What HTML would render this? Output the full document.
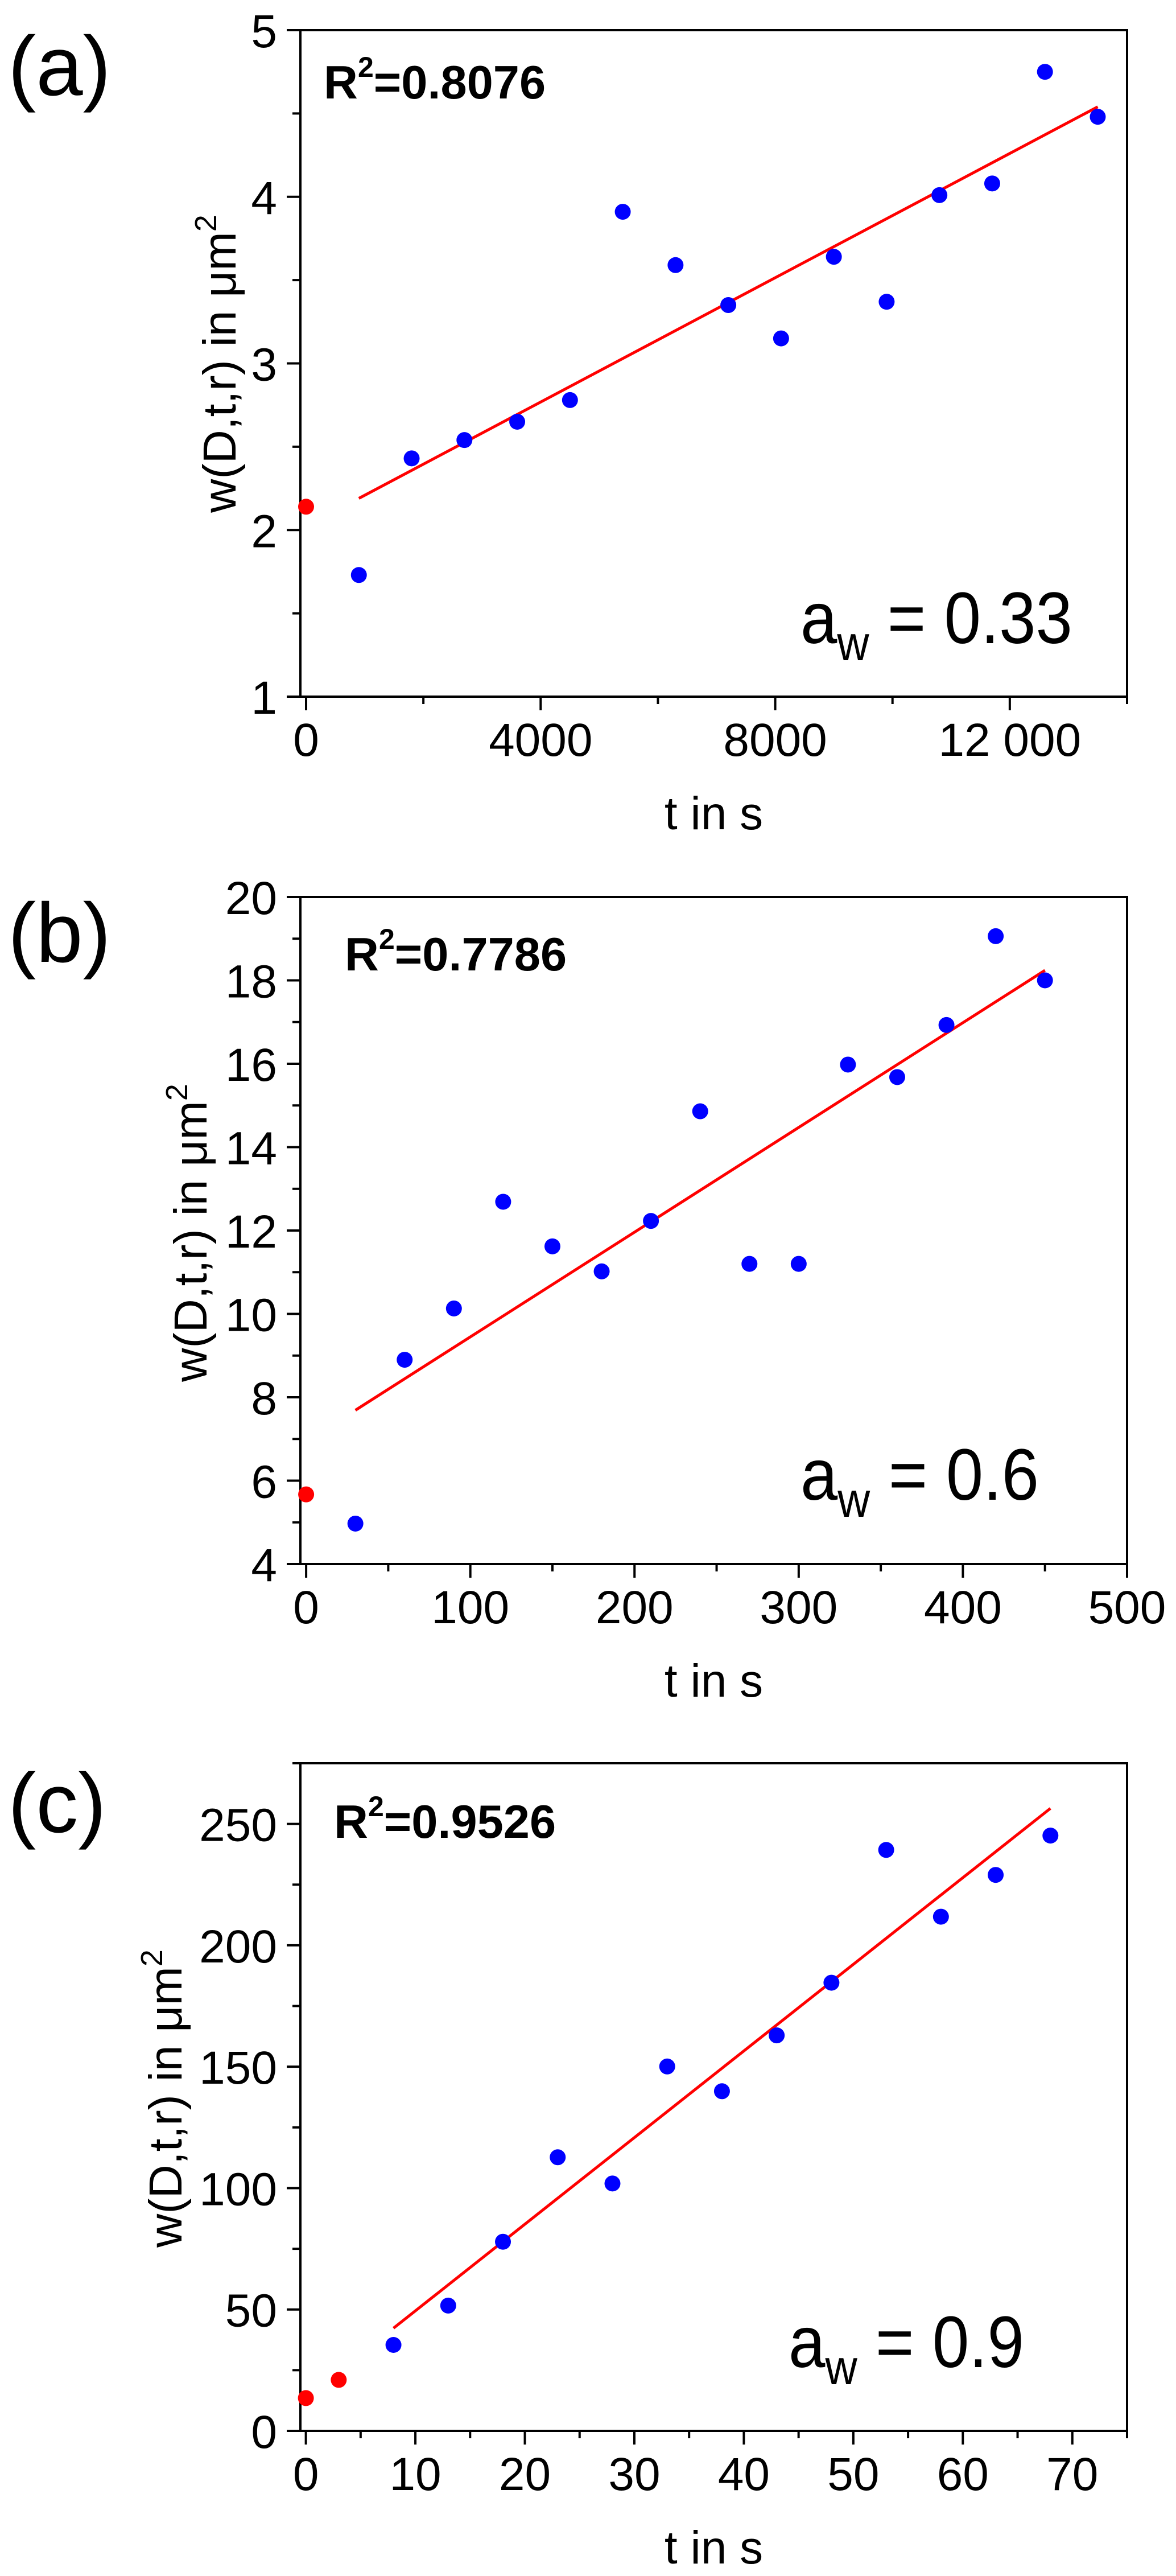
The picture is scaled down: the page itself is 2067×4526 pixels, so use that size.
<!DOCTYPE html>
<html><head><meta charset="utf-8"><style>
html,body{margin:0;padding:0;background:#fff}
svg{display:block}
text{font-family:"Liberation Sans",sans-serif;fill:#000}
</style></head><body>
<svg id="fig" xmlns="http://www.w3.org/2000/svg" width="2067" height="4526" viewBox="0 0 2067 4526"></svg>
<script>
// Panel (a)
const aX = [900,1800,2700,3600,4500,5400,6300,7200,8100,9000,9900,10800,11700,12600,13500];
const aY = [1.73,2.43,2.54,2.65,2.78,3.91,3.59,3.35,3.15,3.64,3.37,4.01,4.08,4.75,4.48];
const aRedX = [0];
const aRedY = [2.14];
const aFitX = [900,13500];
const aFitY = [2.19,4.54];
const aXTicks = [0,4000,8000,12000];
const aXTickLabels = ["0","4000","8000","12 000"];
const aYTicks = [1,2,3,4,5];
const aYTickLabels = ["1","2","3","4","5"];
// Panel (b)
const bX = [30,60,90,120,150,180,210,240,270,300,330,360,390,420,450];
const bY = [4.97,8.90,10.13,12.69,11.62,11.02,12.23,14.86,11.20,11.20,15.98,15.68,16.93,19.06,18.0];
const bRedX = [0];
const bRedY = [5.67];
const bFitX = [30,450];
const bFitY = [7.69,18.24];
const bXTicks = [0,100,200,300,400,500];
const bXTickLabels = ["0","100","200","300","400","500"];
const bYTicks = [4,6,8,10,12,14,16,18,20];
const bYTickLabels = ["4","6","8","10","12","14","16","18","20"];
// Panel (c)
const cX = [8,13,18,23,28,33,38,43,48,53,58,63,68];
const cY = [35.4,51.6,77.9,112.7,101.9,150.1,139.9,162.9,184.6,239.3,211.8,229,245.2];
const cRedX = [0,3];
const cRedY = [13.5,21.0];
const cFitX = [8,68];
const cFitY = [42.3,256.4];
const cXTicks = [0,10,20,30,40,50,60,70];
const cXTickLabels = ["0","10","20","30","40","50","60","70"];
const cYTicks = [0,50,100,150,200,250];
const cYTickLabels = ["0","50","100","150","200","250"];

const NS = "http://www.w3.org/2000/svg";
const svg = document.getElementById('fig');
function mk(tag, attrs, parent){
  const e = document.createElementNS(NS, tag);
  for (const k in attrs) e.setAttribute(k, attrs[k]);
  (parent||svg).appendChild(e);
  return e;
}

const panels = [
  {id:'a', L:528, R:1981, T:53, B:1224, xmin:-97, xmax:14000, ymin:1, ymax:5,
   xs:aX, ys:aY, rx:aRedX, ry:aRedY, fx:aFitX, fy:aFitY,
   xt:aXTicks, xtl:aXTickLabels, xm:[2000,6000,10000,14000],
   yt:aYTicks, ytl:aYTickLabels, ym:[1.5,2.5,3.5,4.5],
   letter:'(a)', letterY:167, r2:'0.8076', r2x:569, r2y:173,
   aw:'0.33', awx:1407, awx2:1885, awy:1130, ylx:414, yly:639},
  {id:'b', L:528, R:1981, T:1576, B:2748, xmin:-3.5, xmax:500, ymin:4, ymax:20,
   xs:bX, ys:bY, rx:bRedX, ry:bRedY, fx:bFitX, fy:bFitY,
   xt:bXTicks, xtl:bXTickLabels, xm:[50,150,250,350,450],
   yt:bYTicks, ytl:bYTickLabels, ym:[5,7,9,11,13,15,17,19],
   letter:'(b)', letterY:1690, r2:'0.7786', r2x:606, r2y:1705,
   aw:'0.6', awx:1407, awx2:1826, awy:2635, ylx:363, yly:2166},
  {id:'c', L:528, R:1981, T:3098, B:4271, xmin:-0.5, xmax:75, ymin:0, ymax:275,
   xs:cX, ys:cY, rx:cRedX, ry:cRedY, fx:cFitX, fy:cFitY,
   xt:cXTicks, xtl:cXTickLabels, xm:[5,15,25,35,45,55,65,75],
   yt:cYTicks, ytl:cYTickLabels, ym:[25,75,125,175,225,275],
   letter:'(c)', letterY:3219, r2:'0.9526', r2x:587, r2y:3229,
   aw:'0.9', awx:1386, awx2:1800, awy:4159, ylx:319, yly:3687}
];

panels.forEach(p => {
  const g = mk('g', {});
  
  
  const sx = v => p.L + (v - p.xmin) / (p.xmax - p.xmin) * (p.R - p.L);
  const sy = v => p.B - (v - p.ymin) / (p.ymax - p.ymin) * (p.B - p.T);

  const lt = mk('text', {x:14, y:p.letterY, 'font-size':148}, g);
  lt.textContent = p.letter;
  
  

  const fr = mk('rect', {x:p.L, y:p.T, width:p.R-p.L, height:p.B-p.T, fill:'none', stroke:'#000', 'stroke-width':4}, g);
  
  

  p.yt.forEach((v,i) => {
    const y = sy(v);
    const t = mk('line', {x1:p.L-24, x2:p.L, y1:y, y2:y, stroke:'#000', 'stroke-width':4}, g);
    
    
    const tl = mk('text', {x:487, y:y+30, 'font-size':82, 'text-anchor':'end'}, g);
    tl.textContent = p.ytl[i];
    
    
  });
  p.ym.forEach(v => {
    const y = sy(v);
    const t = mk('line', {x1:p.L-14, x2:p.L, y1:y, y2:y, stroke:'#000', 'stroke-width':4}, g);
    
    
  });
  p.xt.forEach((v,i) => {
    const x = sx(v);
    const t = mk('line', {x1:x, x2:x, y1:p.B, y2:p.B+24, stroke:'#000', 'stroke-width':4}, g);
    
    
    const tl = mk('text', {x:x, y:p.B+104, 'font-size':82, 'text-anchor':'middle'}, g);
    tl.textContent = p.xtl[i];
    
    
  });
  p.xm.forEach(v => {
    const x = sx(v);
    const t = mk('line', {x1:x, x2:x, y1:p.B, y2:p.B+13, stroke:'#000', 'stroke-width':4}, g);
    
    
  });

  const xt = mk('text', {x:(p.L+p.R)/2, y:p.B+233, 'font-size':82, 'text-anchor':'middle'}, g);
  xt.textContent = 't in s';
  
  

  const yt = mk('text', {x:0, y:0, 'font-size':82, 'text-anchor':'middle', transform:`translate(${p.ylx},${p.yly}) rotate(-90)`}, g);
  yt.innerHTML = 'w(D,t,r) in μm<tspan dy="-34" font-size="54">2</tspan>';
  
  

  const fit = mk('line', {x1:sx(p.fx[0]), y1:sy(p.fy[0]), x2:sx(p.fx[1]), y2:sy(p.fy[1]), stroke:'#ff0000', 'stroke-width':5}, g);
  
  

  p.xs.forEach((v,i) => {
    const c = mk('circle', {cx:sx(v), cy:sy(p.ys[i]), r:14, fill:'#0000ff'}, g);
    
    
  });
  p.rx.forEach((v,i) => {
    const c = mk('circle', {cx:sx(v), cy:sy(p.ry[i]), r:14, fill:'#ff0000'}, g);
    
    
  });

  const r2 = mk('text', {x:p.r2x, y:p.r2y, 'font-size':83, 'font-weight':'bold'}, g);
  r2.innerHTML = 'R<tspan dy="-38" font-size="50">2</tspan><tspan dy="38">=' + p.r2 + '</tspan>';
  
  

  const aw = mk('text', {x:p.awx, y:p.awy, 'font-size':128}, g);
  aw.innerHTML = 'a<tspan dy="30" font-size="86">w</tspan><tspan dy="-30"> = ' + p.aw + '</tspan>';
  
  
  const w = aw.getBBox().width;
  if (w > 0) {
    const s = (p.awx2 - p.awx) / w;
    aw.setAttribute('transform', `translate(${p.awx},0) scale(${s},1) translate(${-p.awx},0)`);
  }
});
</script>
</body></html>
